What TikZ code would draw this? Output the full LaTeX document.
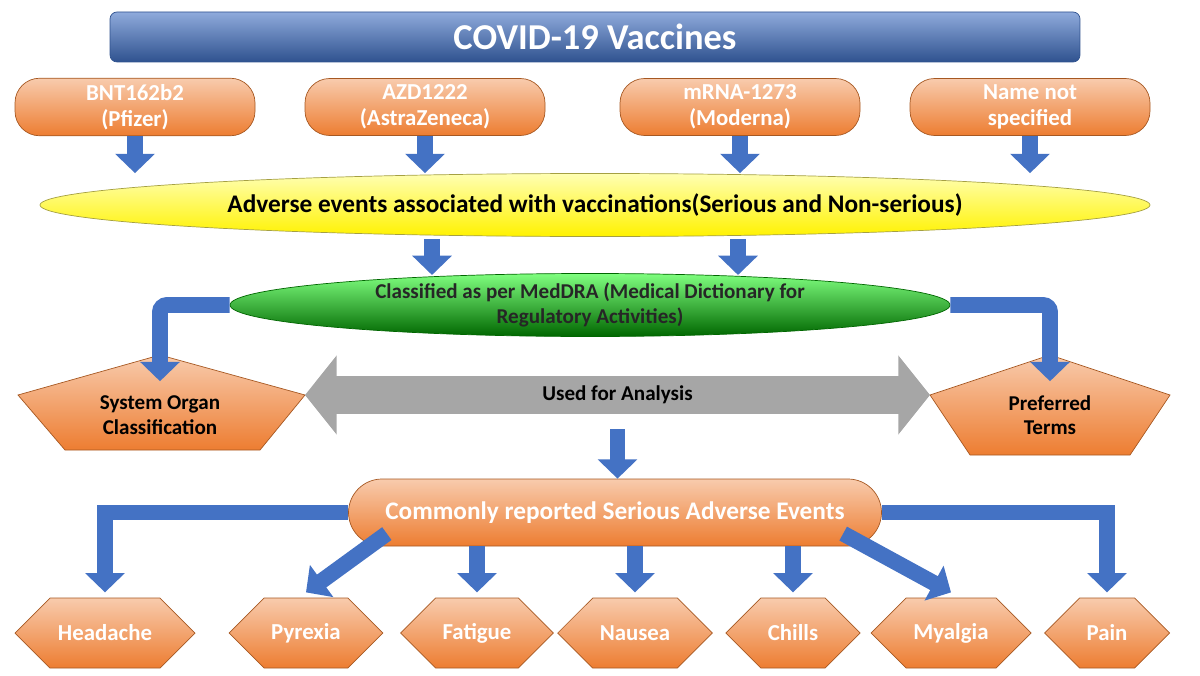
\documentclass[tikz,border=0pt]{standalone}
\usepackage{fontspec}
\setmainfont{Carlito}
\usetikzlibrary{arrows.meta,shapes.geometric,shapes.symbols,shapes.misc,positioning}
\definecolor{blockblue}{HTML}{4472C4}
\definecolor{darkblue}{HTML}{2F528F}
\definecolor{vorange}{HTML}{ED7D31}
\definecolor{lorange}{HTML}{F8CBAD}
\tikzset{
  tab/.style={draw=vorange!70!black, rounded corners=14pt, top color=lorange, bottom color=vorange,
    minimum width=4.8cm, minimum height=1.14cm, align=center, text=white, font=\bfseries\fontsize{13}{15}\selectfont},
  blockarrow/.style={draw=blockblue, line width=9pt, -{Triangle[length=11pt,width=22pt]}},
  hexa/.style={shape=signal, signal to=east and west, draw=vorange!70!black, top color=lorange,
    bottom color=vorange, minimum height=1.4cm, text=white, font=\bfseries\fontsize{13}{15}\selectfont, inner xsep=4pt},
  pentabox/.style={minimum height=1.9cm, align=center, font=\bfseries\large}
}
\begin{document}
\begin{tikzpicture}
\useasboundingbox (0,0) rectangle (24,13.5);

% titre
\node[draw=darkblue, rounded corners=4pt, top color=blockblue!60!white, bottom color=darkblue,
  minimum width=19.4cm, minimum height=1cm, text=white, font=\bfseries\huge] (title) at (11.9,12.76) {COVID-19 Vaccines};

% vaccins
\node[tab] (bnt) at (2.7,11.36) {BNT162b2\\(Pfizer)};
\node[tab] (azd) at (8.5,11.36) {AZD1222\\(AstraZeneca)};
\node[tab] (mrna) at (14.8,11.36) {mRNA-1273\\(Moderna)};
\node[tab] (nns) at (20.6,11.36) {Name not\\specified};

% evenements
\node[ellipse, draw=yellow!60!black, top color=yellow!30!white, bottom color=yellow!90!orange,
  minimum width=22.2cm, minimum height=1.26cm, font=\bfseries\Large] (ae) at (11.9,9.4)
  {Adverse events associated with vaccinations(Serious and Non-serious)};
\foreach \v in {bnt,azd,mrna,nns}
  \draw[blockarrow] (\v.south) -- (\v.south |- ae.north);

% MedDRA
\node[ellipse, draw=green!40!black, top color=green!50!white, bottom color=green!40!black,
  minimum width=14.4cm, minimum height=1.26cm, align=center, font=\bfseries\large, inner sep=0pt,
  text=black!85] (med) at (11.8,7.4)
  {Classified as per MedDRA (Medical Dictionary for\\Regulatory Activities)};
\draw[blockarrow] (8.64,8.72) -- (8.64,8.0);
\draw[blockarrow] (14.76,8.72) -- (14.76,8.0);

% pentagones
\draw[draw=vorange!70!black, top color=lorange, bottom color=vorange]
  (0.36,5.6) -- (3.2,6.4) -- (6.1,5.6) -- (5.2,4.5) -- (1.3,4.5) -- cycle;
\node[pentabox] (soc) at (3.2,5.2) {System Organ\\Classification};
\draw[draw=vorange!70!black, top color=lorange, bottom color=vorange]
  (18.6,5.6) -- (21,6.4) -- (23.4,5.6) -- (22.6,4.4) -- (19.4,4.4) -- cycle;
\node[pentabox] (pt) at (21,5.2) {Preferred\\Terms};

\draw[blockarrow, rounded corners=4pt] (med.west) -| ([yshift=-8pt]soc.north);
\draw[blockarrow, rounded corners=4pt] (med.east) -| ([yshift=-8pt]pt.north);

% fleche double
\draw[draw=gray!70, line width=22pt, {Triangle[length=18pt,width=44pt]}-{Triangle[length=18pt,width=44pt]}]
  (6.1,5.6) -- (18.6,5.6) node[midway, font=\bfseries\large, text=black] (use) {Used for Analysis};

% evenements graves
\node[rounded rectangle, draw=vorange!70!black, top color=lorange, bottom color=vorange,
  minimum width=10.8cm, minimum height=1.34cm, inner xsep=2pt, text=white, font=\bfseries\Large] (sae) at (12.3,3.25)
  {Commonly reported Serious Adverse Events};
\draw[blockarrow] (use.south) -- (use.south |- sae.north);

\node[hexa, minimum width=3.6cm] (h1) at (2.1,0.84) {Headache};
\node[hexa, minimum width=3cm] (h2) at (6.12,0.84) {Pyrexia};
\node[hexa, minimum width=2.9cm] (h3) at (9.54,0.84) {Fatigue};
\node[hexa, minimum width=3cm] (h4) at (12.7,0.84) {Nausea};
\node[hexa, minimum width=2.5cm] (h5) at (15.86,0.84) {Chills};
\node[hexa, minimum width=3.2cm] (h6) at (19.02,0.84) {Myalgia};
\node[hexa, minimum width=2.5cm] (h7) at (22.14,0.84) {Pain};

\draw[blockarrow] (sae.west) -| ([yshift=3pt]h1.north);
\draw[blockarrow] (sae.east) -| ([yshift=3pt]h7.north);
\draw[blockarrow] ([xshift=22pt,yshift=-12pt]sae.west) -- ([yshift=3pt]h2.north);
\draw[blockarrow] ([xshift=-22pt,yshift=-12pt]sae.east) -- ([yshift=3pt]h6.north);
\foreach \h in {h3,h4,h5}
  \draw[blockarrow] (\h.north |- sae.south) -- ([yshift=3pt]\h.north);

\end{tikzpicture}
\end{document}
